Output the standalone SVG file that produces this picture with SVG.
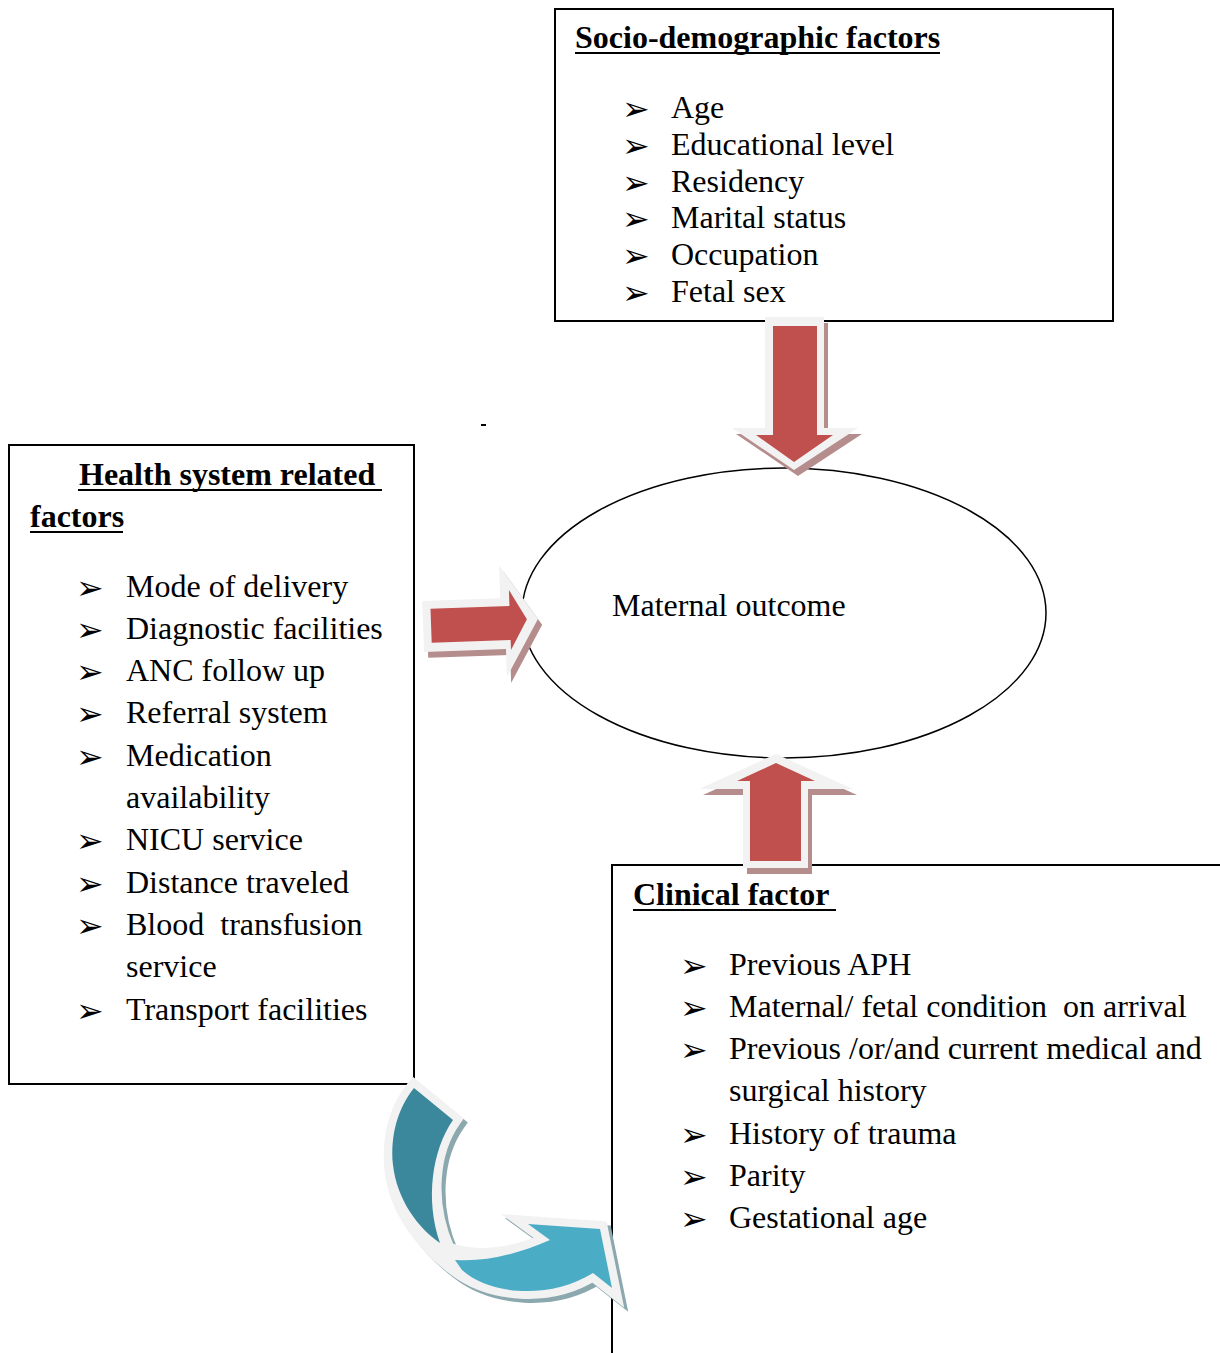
<svg xmlns="http://www.w3.org/2000/svg" width="1220" height="1353" viewBox="0 0 1220 1353">
<style>
text{font-family:"Liberation Serif","Times New Roman",serif;font-size:32px;fill:#000;white-space:pre}
.t{font-weight:bold}
.b{font-family:"DejaVu Sans",sans-serif;font-size:33px}
.box{fill:none;stroke:#000;stroke-width:2}
.ul{stroke:#000;stroke-width:2}
.white{fill:#f2f2f2}
.red{fill:#c0504d}
.rsh{fill:#b58d8c}
</style>
<rect width="1220" height="1353" fill="#fff"/>

<g id="socio">
<rect class="box" x="555" y="9" width="558" height="312"/>
<text class="t" x="575" y="48">Socio-demographic factors</text>
<line class="ul" x1="575" y1="53" x2="940" y2="53"/>
<text class="b" x="622" y="120">➢</text><text x="671" y="118">Age</text>
<text class="b" x="622" y="157">➢</text><text x="671" y="155">Educational level</text>
<text class="b" x="622" y="194">➢</text><text x="671" y="192">Residency</text>
<text class="b" x="622" y="230">➢</text><text x="671" y="228">Marital status</text>
<text class="b" x="622" y="267">➢</text><text x="671" y="265">Occupation</text>
<text class="b" x="622" y="304">➢</text><text x="671" y="302">Fetal sex</text>
</g>

<g id="health">
<rect class="box" x="9" y="445" width="405" height="639"/>
<text class="t" x="79" y="485">Health system related </text>
<line class="ul" x1="78" y1="490" x2="382" y2="490"/>
<text class="t" x="30" y="527">factors</text>
<line class="ul" x1="30" y1="532" x2="123" y2="532"/>
<text class="b" x="76" y="599">➢</text><text x="126" y="597">Mode of delivery</text>
<text class="b" x="76" y="641">➢</text><text x="126" y="639">Diagnostic facilities</text>
<text class="b" x="76" y="683">➢</text><text x="126" y="681">ANC follow up</text>
<text class="b" x="76" y="725">➢</text><text x="126" y="723">Referral system</text>
<text class="b" x="76" y="768">➢</text><text x="126" y="766">Medication</text>
<text x="126" y="808">availability</text>
<text class="b" x="76" y="852">➢</text><text x="126" y="850">NICU service</text>
<text class="b" x="76" y="895">➢</text><text x="126" y="893">Distance traveled</text>
<text class="b" x="76" y="937">➢</text><text x="126" y="935">Blood  transfusion</text>
<text x="126" y="977">service</text>
<text class="b" x="76" y="1022">➢</text><text x="126" y="1020">Transport facilities</text>
</g>

<g id="clinical">
<rect class="box" x="612" y="865" width="640" height="520"/>
<text class="t" x="633" y="905">Clinical factor </text>
<line class="ul" x1="633" y1="910" x2="836" y2="910"/>
<text class="b" x="680" y="977">➢</text><text x="729" y="975">Previous APH</text>
<text class="b" x="680" y="1019">➢</text><text x="729" y="1017">Maternal/ fetal condition  on arrival</text>
<text class="b" x="680" y="1061">➢</text><text x="729" y="1059">Previous /or/and current medical and</text>
<text x="729" y="1101">surgical history</text>
<text class="b" x="680" y="1146">➢</text><text x="729" y="1144">History of trauma</text>
<text class="b" x="680" y="1188">➢</text><text x="729" y="1186">Parity</text>
<text class="b" x="680" y="1230">➢</text><text x="729" y="1228">Gestational age</text>
</g>

<g id="outcome">
<ellipse cx="784" cy="613" rx="262" ry="145" fill="none" stroke="#000" stroke-width="1.5"/>
<text x="612" y="616">Maternal outcome</text>
</g>

<rect x="481" y="424" width="5" height="2" fill="#000"/>

<g id="connectors">
<g id="arrow-down">
<polygon class="rsh" transform="translate(4,6)" points="765,317 824,317 824,428 858,428 794,470 732,428 765,428"/>
<polygon class="white" points="765,317 824,317 824,428 858,428 794,470 732,428 765,428"/>
<polygon class="red" points="773,326 817,326 817,435 833,435 794,462 756,435 773,435"/>
</g>
<g id="arrow-right" transform="rotate(-2 480 622)">
<polygon class="rsh" transform="translate(4,6)" points="423,599 501,599 501,566 538,621 505,678 505,650 423,650"/>
<polygon class="white" points="423,599 501,599 501,566 538,621 505,678 505,650 423,650"/>
<polygon class="red" points="431,607 510,607 510,591 527,621 510,651 510,641 431,641"/>
</g>
<g id="arrow-up">
<polygon class="rsh" transform="translate(4,6)" points="743,868 743,789 699,789 776,754 853,789 808,789 808,868"/>
<polygon class="white" points="743,868 743,789 699,789 776,754 853,789 808,789 808,868"/>
<polygon class="red" points="750,861 750,781 737,781 776,763 815,781 801,781 801,861"/>
</g>
<g id="arrow-curved">
<path transform="translate(4,4)" fill="#8aa8ae" stroke="#8aa8ae" stroke-width="16" stroke-linejoin="miter" d="M414,1088 L453,1120 C432,1150 425,1200 447,1250 C480,1262 515,1255 550,1240 L528,1224 L600,1229 L612,1288 L593,1273 C550,1300 490,1295 455,1268 C425,1245 395,1210 392,1165 C390,1135 398,1108 414,1088 Z"/>
<path fill="#f2f2f2" stroke="#f2f2f2" stroke-width="16" stroke-linejoin="miter" d="M414,1088 L453,1120 C432,1150 425,1200 447,1250 C480,1262 515,1255 550,1240 L528,1224 L600,1229 L612,1288 L593,1273 C550,1300 490,1295 455,1268 C425,1245 395,1210 392,1165 C390,1135 398,1108 414,1088 Z"/>
<path fill="#3b889d" d="M414,1088 L453,1120 C432,1150 425,1200 440,1243 C418,1228 397,1200 393,1165 C390,1135 398,1108 414,1088 Z"/>
<path fill="#4bacc6" d="M455,1260 C485,1262 515,1255 550,1240 L528,1224 L600,1229 L612,1288 L593,1273 C550,1300 490,1295 462,1270 Z"/>
</g>
</g>
</svg>
